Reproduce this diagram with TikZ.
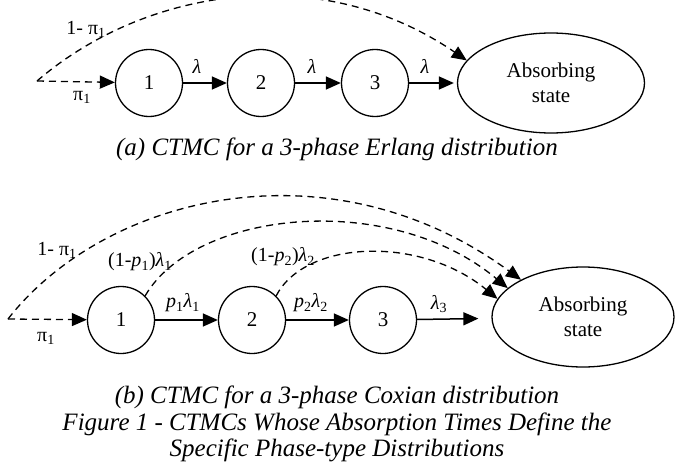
\documentclass[tikz,border=0pt]{standalone}
\usepackage{fontspec}
\setmainfont{Liberation Serif}
\usetikzlibrary{arrows.meta,shapes.geometric}
\begin{document}
\begin{tikzpicture}[x=1pt,y=-1pt,
  st/.style={draw, circle, line width=1.3pt, minimum size=67pt, inner sep=0pt, font=\fontsize{21}{24}\selectfont},
  ab/.style={draw, ellipse, line width=1.3pt, inner sep=0pt, align=center, font=\fontsize{21}{25}\selectfont},
  solidarr/.style={line width=1.5pt, -{Triangle[length=15pt,width=13pt]}},
  dasharr/.style={line width=1.3pt, dash pattern=on 7pt off 5pt, -{Triangle[length=15pt,width=13pt]}},
  lbl/.style={font=\fontsize{20}{22}\selectfont, inner sep=0pt},
  captext/.style={font=\fontsize{25}{26}\selectfont\itshape, inner sep=0pt, align=center}]
\useasboundingbox (0,0) rectangle (675,463);
% ---- (a) Erlang ----
\coordinate (sa) at (37,81);
\node[st] (a1) at (149,83) {1};
\node[st] (a2) at (261,83) {2};
\node[st] (a3) at (375,83) {3};
\node[ab, minimum width=187pt, minimum height=100pt] (ae) at (551,83) {Absorbing\\state};
\draw[dasharr] (sa) -- (a1);
\draw[solidarr] (a1) -- (a2);
\draw[solidarr] (a2) -- (a3);
\draw[solidarr, shorten >=3pt] (a3) -- (ae);
\draw[dasharr] (sa) .. controls (145,-12) and (320,-40) .. (ae.165);
\node[lbl] (la1) at (86,29) {1- π\textsubscript{1}};
\node[lbl] (la2) at (82,97) {π\textsubscript{1}};
\node[lbl] (la3) at (197,66) {\textit{λ}};
\node[lbl] (la4) at (312,66) {\textit{λ}};
\node[lbl] (la5) at (425,66) {\textit{λ}};
\node[captext] (capa) at (337,149) {(a) CTMC for a 3-phase Erlang distribution};
% ---- (b) Coxian ----
\coordinate (sb) at (8,319);
\node[st] (b1) at (121,320) {1};
\node[st] (b2) at (252,320) {2};
\node[st] (b3) at (383,320) {3};
\node[ab, minimum width=182pt, minimum height=100pt] (be) at (583,317) {Absorbing\\state};
\draw[dasharr] (sb) -- (b1);
\draw[solidarr] (b1) -- (b2);
\draw[solidarr] (b2) -- (b3);
\draw[solidarr, shorten >=13pt] (b3) -- (be);
\draw[dasharr] (sb) .. controls (105,195) and (330,140) .. (be.149);
\draw[dasharr] (b1.45) .. controls (195,210) and (390,190) .. (be.159);
\draw[dasharr] (b2.45) .. controls (305,240) and (420,235) .. (be.168);
\node[lbl] (lb1) at (57,250) {1- π\textsubscript{1}};
\node[lbl] (lb2) at (46,338) {π\textsubscript{1}};
\node[lbl] (lb3) at (140,262) {(1-\textit{p}\textsubscript{1})\textit{λ}\textsubscript{1}};
\node[lbl] (lb4) at (283,257) {(1-\textit{p}\textsubscript{2})\textit{λ}\textsubscript{2}};
\node[lbl] (lb5) at (183,303) {\textit{p}\textsubscript{1}\textit{λ}\textsubscript{1}};
\node[lbl] (lb6) at (311,303) {\textit{p}\textsubscript{2}\textit{λ}\textsubscript{2}};
\node[lbl] (lb7) at (439,304) {\textit{λ}\textsubscript{3}};
\node[captext] (capb) at (337,397) {(b) CTMC for a 3-phase Coxian distribution};
\node[captext] (fig1) at (337,424) {Figure 1 - CTMCs Whose Absorption Times Define the};
\node[captext] (fig2) at (337,450) {Specific Phase-type Distributions};
\end{tikzpicture}
\end{document}
